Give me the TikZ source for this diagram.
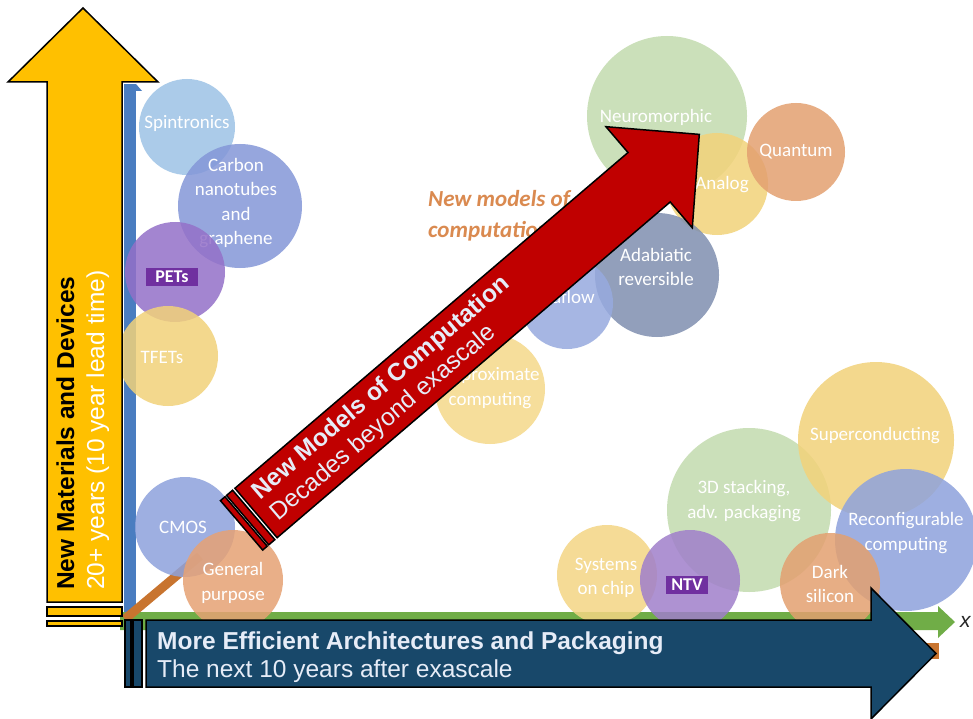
\documentclass[tikz,border=0pt]{standalone}
\usepackage{fontspec}
\setmainfont{Liberation Sans}
\newfontfamily\bubblefont{Carlito}
\definecolor{cYel}{HTML}{FFC000}
\definecolor{cNavy}{HTML}{18486A}
\definecolor{cRed}{HTML}{C00000}
\definecolor{cLight}{HTML}{E6ECF7}
\definecolor{cBlueAxis}{HTML}{4A7DC0}
\definecolor{cGreen}{HTML}{70AD47}
\definecolor{cOrange}{HTML}{C8742F}
\definecolor{cOrangeText}{HTML}{DA8A50}
\definecolor{cSpin}{HTML}{9DC3E6}
\definecolor{cCarb}{HTML}{8497D8}
\definecolor{cPET}{HTML}{9470C8}
\definecolor{cBoxPurple}{HTML}{7030A0}
\definecolor{cTFET}{HTML}{F2D27A}
\definecolor{cCMOS}{HTML}{8EA2DC}
\definecolor{cGen}{HTML}{E6A274}
\definecolor{cNeuro}{HTML}{C3DBAE}
\definecolor{cQuant}{HTML}{E3A070}
\definecolor{cAnalog}{HTML}{F2D37A}
\definecolor{cAdab}{HTML}{7F8FB0}
\definecolor{cData}{HTML}{97AADF}
\definecolor{cApprox}{HTML}{F5D98A}
\definecolor{cThreeD}{HTML}{C3DBAE}
\definecolor{cSuper}{HTML}{F2D27A}
\definecolor{cReconf}{HTML}{8EA2DC}
\definecolor{cDark}{HTML}{E3A070}
\definecolor{cSoC}{HTML}{F4D584}
\definecolor{cNTV}{HTML}{A07FCB}
\begin{document}
\begin{tikzpicture}[x=1pt,y=-1pt,
  bubble/.style={circle, inner sep=0pt, fill opacity=0.85, draw=none},
  btext/.style={text=white, inner sep=0pt, align=center, font=\bubblefont\fontsize{19}{24.5}\selectfont},
  tagbox/.style={fill=cBoxPurple, text=white, inner ysep=3pt, inner xsep=5pt, font=\bubblefont\bfseries\fontsize{18}{20}\selectfont},
  arrowline/.style={draw=black, line width=1.5pt, line join=miter},
  titletext/.style={anchor=base west, inner sep=0pt, font=\bfseries\fontsize{24.5}{29}\selectfont},
  subtext/.style={anchor=base west, inner sep=0pt, font=\fontsize{24.5}{29}\selectfont}]
\useasboundingbox (0,0) rectangle (973,719);
\fill[white] (0,0) rectangle (973,719);

% axes
\fill[cBlueAxis] (124,84) rectangle (136,620);
\fill[cBlueAxis] (136,84) -- (142,91) -- (136,91) -- cycle;
\fill[cGreen] (120,612) -- (938,612) -- (938,606) -- (955,622) -- (938,638) -- (938,630) -- (120,630) -- cycle;
\node[anchor=west, inner sep=0pt, text=black!85, font=\itshape\fontsize{21}{24}\selectfont] (xlab) at (960,622) {x};
\draw[cOrange, line width=9pt] (125,619) -- (200,556);
\fill[cOrange] (926,643) rectangle (939,659);

% bubbles: left column
\node[bubble, fill=cSpin, minimum size=96pt] (spin) at (187,127) {};
\node[btext] (spinT) at (187,123) {Spintronics};
\node[bubble, fill=cCarb, minimum size=124pt] (carb) at (240,206) {};
\node[btext] (carbT) at (236,203) {Carbon\\nanotubes\\and\\graphene};
\node[bubble, fill=cPET, minimum size=100pt] (pet) at (175,272) {};
\node[tagbox, inner xsep=9pt] (petT) at (172,277) {PETs};
\node[bubble, fill=cTFET, minimum size=100pt] (tfet) at (168,356) {};
\node[btext] (tfetT) at (162,357) {TFETs};
\node[bubble, fill=cCMOS, minimum size=100pt] (cmos) at (185,527) {};
\node[btext] (cmosT) at (183,527) {CMOS};
\node[bubble, fill=cGen, minimum size=100pt] (gen) at (233,580) {};
\node[btext] (genT) at (233,583) {General\\purpose};

% bubbles: upper right
\node[bubble, fill=cNeuro, minimum size=160pt] (neuro) at (667,116) {};
\node[bubble, fill=cAnalog, minimum size=102pt] (analog) at (717,184) {};
\node[bubble, fill=cQuant, minimum size=98pt] (quant) at (796,152) {};
\node[bubble, fill=cAdab, minimum size=124pt] (adab) at (657,275) {};
\node[bubble, fill=cData, minimum size=92pt] (data) at (567,303) {};
\node[bubble, fill=cApprox, minimum size=110pt] (approx) at (490,389) {};
\node[btext] (neuroT) at (656,117) {Neuromorphic};
\node[btext] (analogT) at (722,185) {Analog};
\node[btext] (quantT) at (796,152) {Quantum};
\node[btext] (adabT) at (656,267) {Adabiatic\\reversible};
\node[btext] (dataT) at (560,297) {Dataflow};
\node[btext] (approxT) at (490,388) {Approximate\\computing};
\node[anchor=base west, inner sep=0pt, text=cOrangeText, font=\bubblefont\bfseries\itshape\fontsize{23}{28}\selectfont] (nm1) at (428,207) {New models of};
\node[anchor=base west, inner sep=0pt, text=cOrangeText, font=\bubblefont\bfseries\itshape\fontsize{23}{28}\selectfont] (nm2) at (428,237) {computation};

% bubbles: lower right
\node[bubble, fill=cThreeD, minimum size=164pt] (threed) at (749,510) {};
\node[bubble, fill=cSuper, minimum size=156pt] (super) at (876,440) {};
\node[bubble, fill=cReconf, minimum size=142pt] (reconf) at (906,540) {};
\node[bubble, fill=cDark, minimum size=100pt] (dark) at (830,583) {};
\node[bubble, fill=cSoC, minimum size=100pt] (soc) at (607,575) {};
\node[bubble, fill=cNTV, minimum size=100pt] (ntv) at (690,580) {};
\node[btext] (threedT) at (744,501) {3D stacking,\\adv. packaging};
\node[btext] (superT) at (875,436) {Superconducting};
\node[btext] (reconfT) at (906,533) {Reconfigurable\\computing};
\node[btext] (darkT) at (830,584) {Dark\\silicon};
\node[btext] (socT) at (606,578) {Systems\\on chip};
\node[tagbox] (ntvT) at (687,585) {NTV};

% yellow vertical arrow
\draw[arrowline, fill=cYel] (47,602) -- (47,82) -- (8,82) -- (83,8) -- (158,82) -- (122,82) -- (122,602) -- cycle;
\draw[arrowline, fill=cYel] (47,607) rectangle (122,616);
\draw[arrowline, fill=cYel] (47,621) rectangle (122,626);
\node[titletext, rotate=90, text=black] (yT1) at (74,590) {New Materials and Devices};
\node[subtext, rotate=90, text=white] (yT2) at (104,590) {20+ years (10 year lead time)};

% navy horizontal arrow
\draw[arrowline, fill=cNavy] (146,620) -- (871,620) -- (871,588) -- (936,653.5) -- (871,719) -- (871,687) -- (146,687) -- cycle;
\draw[arrowline, fill=cNavy] (125,620) rectangle (131,687);
\draw[arrowline, fill=cNavy] (133,620) rectangle (142,687);
\node[titletext, text=cLight] (hT1) at (157,649) {More Efficient Architectures and Packaging};
\node[subtext, text=cLight] (hT2) at (157,677) {The next 10 years after exascale};

% red diagonal arrow
\begin{scope}[shift={(256,513)}, rotate=40.5]
\draw[arrowline, fill=cRed] (0,-32.5) -- (517,-32.5) -- (517,-66.5) -- (583,0) -- (517,66.5) -- (517,32.5) -- (0,32.5) -- cycle;
\draw[arrowline, fill=cRed] (-3,-32.5) rectangle (-11,32.5);
\draw[arrowline, fill=cRed] (-13,-32.5) rectangle (-19,32.5);
\node[titletext, rotate=40.5, text=cLight] (rT1) at (11.5,-7) {New Models of Computation};
\node[subtext, rotate=40.5, text=cLight] (rT2) at (11.5,21) {Decades beyond exascale};
\end{scope}
\end{tikzpicture}
\end{document}
